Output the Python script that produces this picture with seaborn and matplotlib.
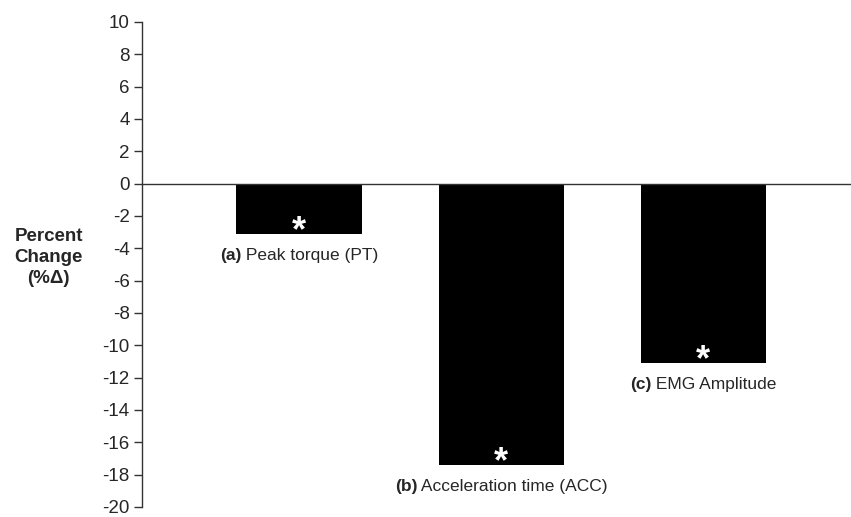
import matplotlib
matplotlib.use("Agg")
import matplotlib.pyplot as plt
import seaborn as sns
import pandas as pd
from matplotlib.transforms import offset_copy

categories = ["PT", "ACC", "EMG"]
values = [-3.1, -17.4, -11.1]
label_bold = ["(a)", "(b)", "(c)"]
label_rest = [" Peak torque (PT)", " Acceleration time (ACC)", " EMG Amplitude"]
yticks = list(range(-20, 11, 2))

sns.set_style("white")
plt.rcParams["font.family"] = ["Liberation Sans", "DejaVu Sans"]
plt.rcParams["mathtext.fontset"] = "custom"
plt.rcParams["mathtext.rm"] = "Liberation Sans"
plt.rcParams["mathtext.bf"] = "Liberation Sans:bold"

df = pd.DataFrame({"cat": categories, "val": values})

fig = plt.figure(figsize=(8.51, 5.17), dpi=100)
ax = fig.add_axes([0.1669, 0.0195, 0.8331, 0.938])
sns.barplot(data=df, x="cat", y="val", color="black", saturation=1, width=0.62, ax=ax)

ax.set_ylim(-20, 10)
ax.set_xlim(-0.777, 2.73)
ax.set_yticks(yticks)
ax.set_yticklabels([str(t) for t in yticks], fontsize=13.5)
ax.tick_params(axis="y", left=True, direction="out", length=6, width=1, color="#333333", pad=3)
ax.tick_params(axis="x", bottom=False, labelbottom=False)
for s in ["top", "right"]:
    ax.spines[s].set_visible(False)
ax.spines["left"].set_color("#333333")
ax.spines["bottom"].set_color("#333333")
ax.spines["bottom"].set_position(("data", 0))
ax.spines["left"].set_linewidth(1)
ax.spines["bottom"].set_linewidth(1)
ax.set_xlabel("")
ax.set_ylabel("")
for p in ax.patches:
    p.set_edgecolor("none")

fig.text(0.057, 0.502, "Percent\nChange\n(%\u0394)", ha="center", va="center",
         fontsize=13.5, fontweight="bold", linespacing=1.3)

fig.canvas.draw()
r = fig.canvas.get_renderer()
for i, (v, b, t) in enumerate(zip(values, label_bold, label_rest)):
    # asterisk
    ax.annotate(r"$\mathbf{*}$", xy=(i, v), xytext=(0, 2.5), textcoords="offset points",
                ha="center", va="center", color="white", fontsize=26)
    tb = ax.text(0, 0, b, fontsize=12.5, fontweight="bold")
    tr = ax.text(0, 0, t, fontsize=12.5)
    wb = tb.get_window_extent(r).width
    wr = tr.get_window_extent(r).width
    tot = wb + wr
    tb.remove(); tr.remove()
    base = offset_copy(ax.transData, fig=fig, x=-tot / 2 * 72 / fig.dpi, y=-15.5, units="points")
    ax.text(i, v, b, fontsize=12.5, fontweight="bold", ha="left", va="center", transform=base)
    base2 = offset_copy(ax.transData, fig=fig, x=(-tot / 2 + wb) * 72 / fig.dpi, y=-15.5, units="points")
    ax.text(i, v, t, fontsize=12.5, ha="left", va="center", transform=base2)

fig.savefig("out.png", dpi=100)
